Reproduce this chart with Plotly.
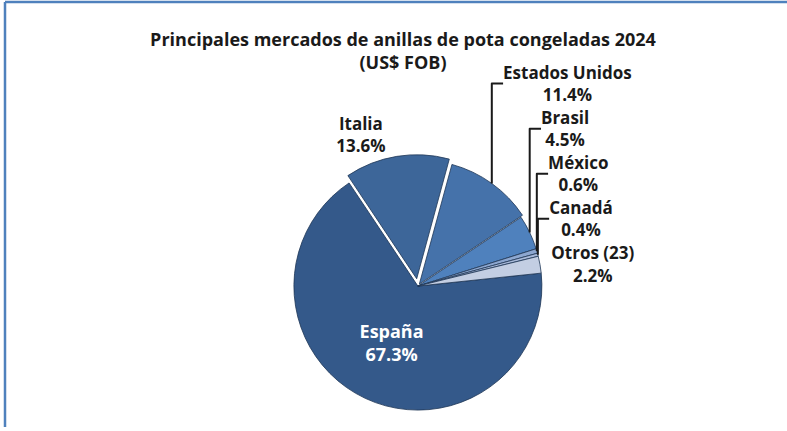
import plotly.graph_objects as go

# Data
labels = ["España", "Italia", "Estados Unidos", "Brasil", "México", "Canadá", "Otros (23)"]
shares = [67.3, 13.6, 11.4, 4.5, 0.6, 0.4, 2.2]
colors = ["#34598A", "#3D6699", "#4572AA", "#4F81BD", "#8DA7D0", "#A9BADA", "#C3CEE3"]
text_pos = ["inside", "outside", "outside", "outside", "outside", "outside", "outside"]
pulls = [0, 0.06, 0.02, 0, 0, 0, 0]

title_text = "<b>Principales mercados de anillas de pota congeladas 2024<br>(US$ FOB)</b>"

W, H = 787, 431

fig = go.Figure(
    go.Pie(
        labels=labels,
        values=shares,
        sort=False,
        direction="clockwise",
        rotation=84,
        pull=pulls,
        marker=dict(colors=colors, line=dict(color="#1E3656", width=0.8)),
        texttemplate="<b>%{label}<br>%{value:.1f}%</b>",
        textposition=text_pos,
        insidetextorientation="horizontal",
        insidetextfont=dict(color="white", size=18, family="Open Sans"),
        outsidetextfont=dict(color="#1a1a1a", size=17, family="Open Sans"),
        hoverinfo="label+percent",
        domain=dict(x=[0.364, 0.698], y=[0.02, 0.64]),
        showlegend=False,
    )
)

fig.update_layout(
    width=W,
    height=H,
    margin=dict(l=0, r=0, t=0, b=0),
    paper_bgcolor="white",
    plot_bgcolor="white",
    title=dict(
        text=title_text,
        x=403 / W,
        xanchor="center",
        y=1 - 46 / H,
        yanchor="top",
        yref="container",
        font=dict(family="Open Sans", size=18, color="#1a1a1a"),
    ),
    shapes=[
        dict(type="line", xref="paper", yref="paper",
             x0=5 / W, x1=5 / W, y0=0, y1=1 - 2 / H,
             line=dict(color="#4F81BD", width=2.5)),
        dict(type="line", xref="paper", yref="paper",
             x0=5 / W, x1=1, y0=1 - 2 / H, y1=1 - 2 / H,
             line=dict(color="#4F81BD", width=2.5)),
    ],
)

fig.write_html(
    "out.html",
    config={"displayModeBar": False},
    post_script="document.body.style.margin='0';document.body.style.overflow='hidden';",
)
